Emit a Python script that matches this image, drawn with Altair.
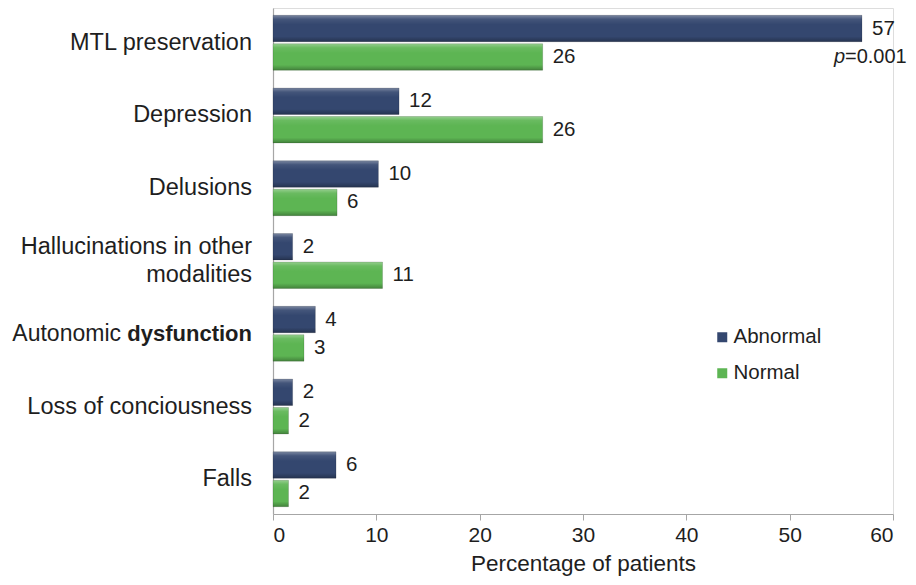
import altair as alt
import pandas as pd

categories = [
    "MTL preservation",
    "Depression",
    "Delusions",
    "Hallucinations in other modalities",
    "Autonomic dysfunction",
    "Loss of conciousness",
    "Falls",
]
groups = ["Abnormal", "Normal"]
abnormal_values = [57.0, 12.2, 10.2, 1.9, 4.1, 1.9, 6.1]
normal_values = [26.1, 26.1, 6.2, 10.6, 3.0, 1.5, 1.5]
abnormal_labels = [57, 12, 10, 2, 4, 2, 6]
normal_labels = [26, 26, 6, 11, 3, 2, 2]
axis_labels = [
    "MTL preservation",
    "Depression",
    "Delusions",
    "",
    "",
    "Loss of conciousness",
    "Falls",
]
colors = ["#34476f", "#5db553"]
tick_values = [0, 10, 20, 30, 40, 50, 60]

rows = []
for i, c in enumerate(categories):
    rows.append(dict(category=c, group="Abnormal", value=abnormal_values[i], label=str(abnormal_labels[i])))
    rows.append(dict(category=c, group="Normal", value=normal_values[i], label=str(normal_labels[i])))
df = pd.DataFrame(rows)
label_df = pd.DataFrame({"category": categories, "text": axis_labels})
hall_df = pd.DataFrame({"category": ["Hallucinations in other modalities"],
                        "text": ["Hallucinations in other|modalities"]})
auto_df = pd.DataFrame({"category": ["Autonomic dysfunction"]})
p_df = pd.DataFrame({"category": ["MTL preservation"], "group": ["Normal"], "value": [abnormal_values[0]]})

FONT = "Liberation Sans, Arial, sans-serif"
TXT = "#1e1e1e"
CAT_SIZE = 23.5

y_enc = alt.Y(
    "category:N",
    sort=categories,
    scale=alt.Scale(paddingInner=0.245, paddingOuter=0.1),
    axis=alt.Axis(labels=False, ticks=False, title=None, domainColor="#a6a6a6", domainWidth=1.2),
)
y_plain = alt.Y("category:N", sort=categories)
yoff = alt.YOffset("group:N", sort=groups, scale=alt.Scale(paddingInner=0.07, paddingOuter=0))
x_enc = alt.X(
    "value:Q",
    scale=alt.Scale(domain=[0, 60], nice=False),
    axis=alt.Axis(
        values=tick_values,
        title="Percentage of patients",
        grid=False,
        domainColor="#a6a6a6",
        domainWidth=1.2,
        tickColor="#a6a6a6",
        tickSize=6,
        labelFont=FONT,
        labelFontSize=21,
        labelColor=TXT,
        labelPadding=4,
        titleFont=FONT,
        titleFontSize=22.5,
        titleFontWeight="normal",
        titleColor=TXT,
        titlePadding=7,
    ),
)

base = alt.Chart(df)

bars = base.mark_bar().encode(
    x=x_enc,
    y=y_enc,
    yOffset=yoff,
    color=alt.Color(
        "group:N",
        sort=groups,
        scale=alt.Scale(domain=groups, range=colors),
        legend=alt.Legend(
            orient="none",
            legendX=439,
            legendY=319,
            title=None,
            symbolType="square",
            symbolSize=100,
            symbolStrokeWidth=0,
            labelFont=FONT,
            labelFontSize=20.5,
            labelColor=TXT,
            labelOffset=1,
            rowPadding=15,
        ),
    ),
)

shade = alt.Gradient(
    gradient="linear",
    stops=[
        alt.GradientStop(color="rgba(255,255,255,0.35)", offset=0),
        alt.GradientStop(color="rgba(255,255,255,0.08)", offset=0.15),
        alt.GradientStop(color="rgba(255,255,255,0)", offset=0.35),
        alt.GradientStop(color="rgba(0,0,0,0)", offset=0.8),
        alt.GradientStop(color="rgba(0,0,0,0.28)", offset=1),
    ],
    x1=0, x2=0, y1=0, y2=1,
)
overlay = base.mark_bar(fill=shade, stroke="rgba(0,0,0,0.18)", strokeWidth=0.8).encode(
    x="value:Q", y=y_plain, yOffset=yoff
)

values_text = base.mark_text(
    align="left", baseline="middle", dx=10, font=FONT, fontSize=20.5, color=TXT
).encode(x="value:Q", y=y_plain, yOffset=yoff, text="label:N")

cat_text = alt.Chart(label_df).mark_text(
    align="right", baseline="middle", font=FONT, fontSize=CAT_SIZE, color=TXT
).encode(x=alt.value(-21), y=y_plain, text="text:N")

hall_text = (
    alt.Chart(hall_df)
    .transform_calculate(lines="split(datum.text, '|')")
    .mark_text(align="right", baseline="middle", dy=-14, font=FONT, fontSize=CAT_SIZE, color=TXT, lineHeight=28)
    .encode(x=alt.value(-21), y=y_plain, text="lines:N")
)
auto_bold = alt.Chart(auto_df).mark_text(
    align="right", baseline="middle", font=FONT, fontSize=22, fontWeight="bold", color=TXT
).encode(x=alt.value(-21), y=y_plain, text=alt.value("dysfunction"))
auto_norm = alt.Chart(auto_df).mark_text(
    align="right", baseline="middle", font=FONT, fontSize=23, color=TXT
).encode(x=alt.value(-152), y=y_plain, text=alt.value("Autonomic"))

p_italic = alt.Chart(p_df).mark_text(
    align="right", baseline="middle", dx=-17, font=FONT, fontSize=20, fontStyle="italic", color=TXT
).encode(x="value:Q", y=y_plain, yOffset=yoff, text=alt.value("p"))
p_rest = alt.Chart(p_df).mark_text(
    align="left", baseline="middle", dx=-17, font=FONT, fontSize=20, color=TXT
).encode(x="value:Q", y=y_plain, yOffset=yoff, text=alt.value("=0.001"))

chart = (
    alt.layer(bars, overlay, values_text, cat_text, hall_text, auto_bold, auto_norm, p_italic, p_rest)
    .properties(
        width=620,
        height=506,
        autosize=alt.AutoSizeParams(type="none"),
        padding={"left": 265, "top": 0, "right": 15, "bottom": 63},
    )
    .configure_view(stroke=None)
    .configure(background="white")
)

chart.save("out.html", embed_options={"renderer": "svg", "actions": False})
